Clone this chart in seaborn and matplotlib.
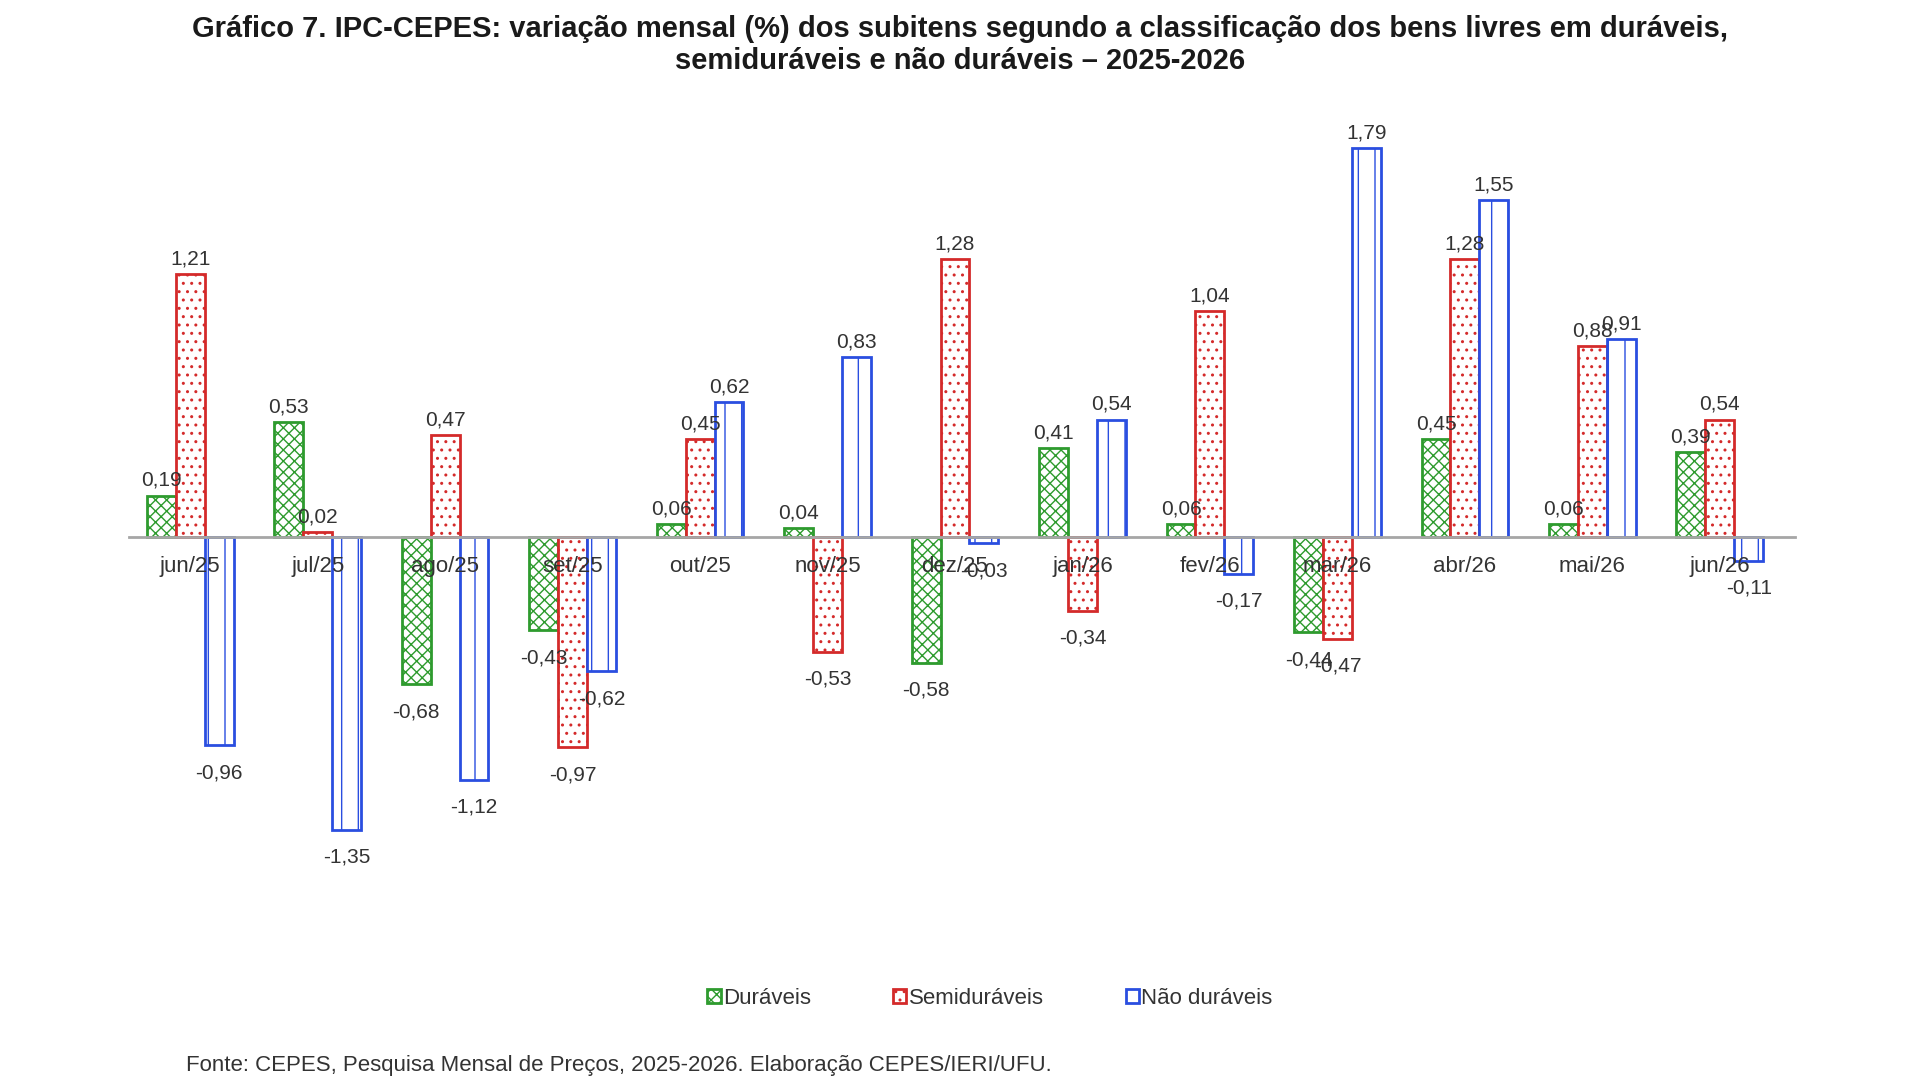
import matplotlib
matplotlib.use("Agg")
import matplotlib.pyplot as plt
import seaborn as sns
import pandas as pd
from matplotlib.patches import Patch

meses = ["jun/25", "jul/25", "ago/25", "set/25", "out/25", "nov/25", "dez/25",
         "jan/26", "fev/26", "mar/26", "abr/26", "mai/26", "jun/26"]
duraveis = [0.19, 0.53, -0.68, -0.43, 0.06, 0.04, -0.58, 0.41, 0.06, -0.44, 0.45, 0.06, 0.39]
semiduraveis = [1.21, 0.02, 0.47, -0.97, 0.45, -0.53, 1.28, -0.34, 1.04, -0.47, 1.28, 0.88, 0.54]
nao_duraveis = [-0.96, -1.35, -1.12, -0.62, 0.62, 0.83, -0.03, 0.54, -0.17, 1.79, 1.55, 0.91, -0.11]
series = ["Duráveis", "Semiduráveis", "Não duráveis"]
cores = ["#2e9b2e", "#d42a2a", "#2a4ee0"]
hachuras = ["xxx", "..", "|"]

titulo = ("Gráfico 7. IPC-CEPES: variação mensal (%) dos subitens segundo a classificação dos bens livres em duráveis,\n"
          "semiduráveis e não duráveis – 2025-2026")
fonte = "Fonte: CEPES, Pesquisa Mensal de Preços, 2025-2026. Elaboração CEPES/IERI/UFU."

df = pd.DataFrame({
    "mes": meses * 3,
    "serie": [series[0]] * 13 + [series[1]] * 13 + [series[2]] * 13,
    "valor": duraveis + semiduraveis + nao_duraveis,
})

sns.set_theme(style="white")
plt.rcParams["font.family"] = ["Liberation Sans", "DejaVu Sans"]

fig = plt.figure(figsize=(19.2, 10.8), dpi=100)
ax = fig.add_axes([129 / 1920, 0.101, (1795 - 129) / 1920, 0.804])

sns.barplot(data=df, x="mes", y="valor", hue="serie", order=meses, hue_order=series,
            palette=cores, width=0.68, ax=ax, legend=False)

def fmt(v):
    return f"{v:.2f}".replace(".", ",")

for cont, cor, hat, vals in zip(ax.containers, cores, hachuras, [duraveis, semiduraveis, nao_duraveis]):
    for bar in cont:
        bar.set_facecolor("white")
        bar.set_edgecolor(cor)
        bar.set_hatch(hat)
        bar.set_linewidth(2.0)
    pos = [fmt(v) if v >= 0 else "" for v in vals]
    neg = [fmt(v) if v < 0 else "" for v in vals]
    ax.bar_label(cont, labels=pos, padding=4, fontsize=15, color="#333333")
    ax.bar_label(cont, labels=neg, padding=13, fontsize=15, color="#333333")

ax.set_xlim(-0.48, 12.59)
ax.set_ylim(-2.0, 2.0)
ax.set_xlabel("")
ax.set_ylabel("")
ax.set_yticks([])
for s in ["top", "right", "left"]:
    ax.spines[s].set_visible(False)
ax.spines["bottom"].set_position(("data", 0))
ax.spines["bottom"].set_color("#a6a6a6")
ax.spines["bottom"].set_linewidth(2)
ax.set_axisbelow(False)
ax.tick_params(axis="x", length=0, pad=14, labelsize=16, labelcolor="#333333")
ax.xaxis.set_zorder(5)

handles = [Patch(facecolor="white", edgecolor=c, hatch=h, linewidth=2) for c, h in zip(cores, hachuras)]
fig.legend(handles, series, loc="center", bbox_to_anchor=(990 / 1920, 1 - 998 / 1080), ncol=3,
           frameon=False, fontsize=16, handlelength=0.6, handleheight=0.6, handletextpad=0.1,
           columnspacing=3.7, labelcolor="#333333")

fig.text(0.5, 1 - 45 / 1080, titulo, ha="center", va="center", fontsize=21, fontweight="bold",
         color="#1a1a1a", linespacing=1.2)
fig.text(186 / 1920, 1 - 1066 / 1080, fonte, ha="left", va="center", fontsize=16, color="#333333")

fig.savefig("out.png", dpi=100, facecolor="white")
